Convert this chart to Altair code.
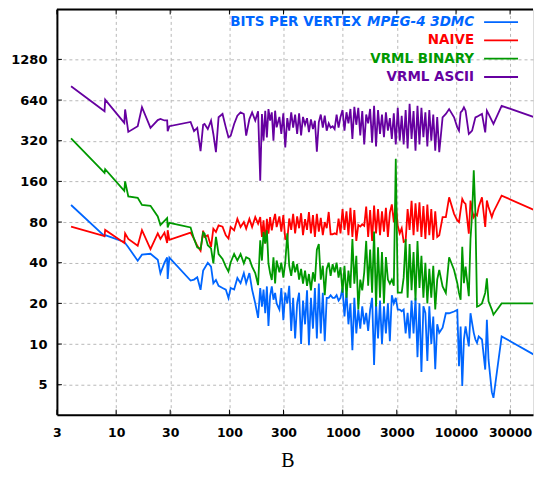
import altair as alt
import pandas as pd

# number of vertices (shared by all four series)
x_vertices = [
    4.0, 7.9, 8.0, 11.8, 12.0, 12.8, 15.5, 16.9, 20.1, 23.3, 24.6, 26.7, 28.2, 28.5, 29.5, 45.4, 48.7, 52, 55.6, 58.6,
    60.3, 64.4, 68.8, 72.1, 76, 80.2, 86.9, 92.9, 98, 102.6, 110, 117.5, 125.4, 134, 140.5, 150, 158.5, 169, 179, 187,
    193.6, 200, 207, 214, 221, 228.5, 236.5, 244.6, 253, 261,
    276, 287, 299, 311, 324, 337, 351, 365, 380, 396,
    412, 429, 446, 465, 484, 503, 524, 546, 568, 591,
    615, 640, 667, 694, 722, 752, 782, 815, 848, 883,
    919, 956, 996, 1036, 1079, 1123, 1169, 1217, 1266, 1318,
    1372, 1428, 1487, 1548, 1611, 1677, 1745, 1817, 1891, 1968,
    2049, 2133, 2220, 2311, 2405, 2504, 2606, 2713, 2824, 2939,
    3059, 3185, 3315, 3450, 3592, 3739, 3892, 4051, 4217, 4389,
    4569, 4756, 4950, 5153, 5364, 5583, 5811, 6049, 6297, 6555,
    6823,
    7112, 7610, 8130, 8690, 9610, 10260, 10620, 10980, 11350, 11740, 12140, 12970, 13420, 13870, 14340, 14830,
    15320, 15850, 16940, 18100, 18720, 19360, 20700, 21400, 25270, 49300,
]

bpv_3dmc = [
    107, 63, 64, 57, 56, 52, 41.4, 45.9, 46.6, 42, 33.4, 40, 43.7, 30.3, 43.7, 29.5, 30, 31.2, 25.2, 35,
    36.4, 40, 37.4, 28.2, 29.8, 27, 26, 25.3, 21.9, 26, 25.3, 30.8, 28.2, 33.5, 28.2, 33.5, 25.3, 20, 15.6, 26,
    18.9, 25.3, 16.9, 26.7, 13.6, 22.6, 26.7, 21.3, 23.9, 20,
    18, 26, 15, 24, 20, 27, 12.5, 22, 11, 20,
    24, 10, 21, 14, 25, 9.8, 22, 13, 26, 11,
    28, 12, 24, 10.5, 22, 22, 23, 22, 22, 23,
    21, 22, 26, 16, 24, 14, 20, 9, 22, 12,
    18, 13, 19, 14, 17, 12.5, 18, 22, 7, 20,
    11, 21, 10, 19, 12, 20, 10.5, 23, 20, 22,
    18, 18, 17.5, 18, 12, 17, 11, 21, 12, 22,
    8, 20, 6.2, 19, 17, 7.5, 19, 10, 16, 6.5,
    14,
    12.1, 13.2, 16.9, 16.9, 17.4, 17.9, 6.84, 13.5, 4.9, 10.8, 13.5, 9.6, 16.9, 14.3, 12.1, 10.8,
    10.2, 11.4, 10.8, 6.47, 15.1, 7.66, 4.4, 4.0, 11.4, 8.3,
]

bpv_naive = [
    74, 63, 70, 56, 66, 60, 53.4, 69.6, 50.5, 66, 60, 66.8, 56, 69.6, 59, 66.8, 60, 53.4, 49, 69,
    62.1, 63.9, 52.4, 71.5, 67.6, 75.6, 74, 63.9, 60.4, 73.5, 69.5, 84.6, 73.5, 80, 71.5, 84.6, 73.5, 87, 77.8, 87,
    62.1, 82.3, 55.5, 84.6, 65.7, 87, 69.5, 82, 92, 73.5,
    88, 68, 90, 60, 59, 85, 70, 92, 66, 88,
    72, 93, 64, 84, 70, 95, 66, 90, 62, 92,
    68, 86, 64, 80, 72, 95, 65, 65, 66, 65,
    85, 66, 100, 70, 96, 64, 102, 62, 98, 58,
    76, 74, 77, 75, 104, 62, 98, 58, 106, 66,
    100, 64, 96, 68, 102, 62, 94, 108, 80, 110,
    75, 66, 72, 57, 58, 100, 70, 115, 64, 110,
    68, 112, 62, 105, 60, 108, 64, 100, 59, 96,
    62,
    63.9, 87, 87, 122, 92, 82.3, 80, 97.9, 118.7, 112, 109, 65.7, 115.4, 97.9, 87, 92,
    89.6, 103.5, 122, 73.5, 115.4, 103.5, 87, 95, 125.6, 97.9,
]

bpv_vrml_binary = [
    333, 185, 197, 136, 160, 124, 121, 107, 105.5, 88, 76, 81.6, 85.6, 73, 79, 73, 60, 52, 50.5, 66.8,
    65.7, 53.9, 51, 39.6, 62.1, 46.4, 42.7, 37.4, 34.4, 40.3, 46.4, 41.5, 46.4, 39.6, 43.9, 42.7, 37.4, 33.5, 27.3, 58.7,
    41.5, 67.6, 55.5, 69.5, 39.6, 33.5, 29.8, 43.9, 28.1, 41.5,
    34, 40, 31, 40, 66, 38, 32, 41, 34, 39,
    30, 36, 28, 35, 27, 33, 25, 34, 29, 50,
    55, 30, 38, 23, 36, 40, 32, 39, 34, 40,
    31, 37, 24, 38, 22, 35, 26, 60, 28, 45,
    18, 30, 25, 34, 58, 27, 50, 24, 68, 19,
    52, 22, 48, 20, 44, 30, 28, 30, 27, 235,
    24, 24, 24, 31, 60, 22, 55, 25, 48, 21,
    58, 26, 45, 22, 40, 20, 36, 22, 38, 18,
    30,
    35.3, 26.7, 23.9, 43.9, 35.3, 28.2, 23.9, 21.3, 52.4, 28.2, 37.4, 22.6, 60.2, 92.2, 193, 92.2,
    18.9, 19.1, 20, 23.9, 30.6, 20.7, 18, 16.5, 20, 20,
]

bpv_vrml_ascii = [
    809, 529, 645, 434, 545, 372, 410, 566, 398, 455, 464, 452, 452, 377, 410, 441, 377, 398, 268, 420,
    426, 391, 451, 359, 263, 477, 505, 402, 339, 349, 426, 490, 519, 505, 349, 463, 519, 451, 528, 162,
    505, 320, 534, 339, 549, 451, 519, 320, 534, 402,
    480, 360, 510, 285, 470, 380, 520, 400, 500, 360,
    510, 350, 480, 420, 470, 370, 460, 390, 450, 265,
    440, 500, 400, 490, 380, 430, 400, 410, 390, 500,
    400, 480, 540, 380, 520, 430, 550, 330, 570, 420,
    560, 350, 530, 300, 500, 430, 550, 310, 580, 290,
    540, 360, 500, 340, 520, 380, 470, 330, 510, 300,
    560, 320, 490, 300, 540, 280, 600, 330, 530, 270,
    580, 300, 560, 340, 520, 290, 540, 320, 500, 270,
    480,
    263, 477, 505, 549, 477, 402, 380, 519, 534, 565, 534, 359, 369, 380, 426, 477,
    482, 490, 505, 369, 534, 505, 451, 426, 580, 477,
]

series_names = ["BITS PER VERTEX MPEG-4 3DMC", "NAIVE", "VRML BINARY", "VRML ASCII"]
series_values = [bpv_3dmc, bpv_naive, bpv_vrml_binary, bpv_vrml_ascii]
series_colors = ["#0066ff", "#ff0000", "#009900", "#6600a0"]

x_ticks = [3, 10, 30, 100, 300, 1000, 3000, 10000, 30000]
y_ticks = [5, 10, 20, 40, 80, 160, 320, 640, 1280]
caption = "B"

W, H = 477, 406
xs = alt.Scale(type="log", domain=[3, 47800], nice=False)
ys = alt.Scale(type="log", domain=[3, 3000], nice=False)

common_axis = dict(
    title=None, grid=True, gridColor="#b8b8b8", gridDash=[3, 3], gridWidth=1,
    ticks=False, domain=True, domainColor="black", domainWidth=2,
    labelFont="DejaVu Sans", labelFontWeight="bold", labelColor="black",
    labelFlush=False, labelOverlap=False, format="d",
)
x_axis = alt.Axis(values=x_ticks, labelPadding=12, labelFontSize=12.5, **common_axis)
y_axis = alt.Axis(values=y_ticks, labelPadding=10, labelFontSize=13, minExtent=49, maxExtent=49, **common_axis)

layers = []
for name, vals, col in zip(series_names, series_values, series_colors):
    n = min(len(vals), len(x_vertices))
    d = pd.DataFrame({"x": x_vertices[:n], "y": vals[:n], "i": list(range(n))})
    layers.append(
        alt.Chart(d).mark_line(color=col, strokeWidth=1.8, clip=True).encode(
            x=alt.X("x:Q", scale=xs, axis=x_axis),
            y=alt.Y("y:Q", scale=ys, axis=y_axis),
            order="i:Q",
        )
    )

xt = pd.DataFrame({"t": x_ticks})
yt = pd.DataFrame({"t": y_ticks})
layers.append(alt.Chart(xt).mark_rule(color="black", strokeWidth=1).encode(
    x=alt.X("t:Q", scale=xs, axis=x_axis), y=alt.value(H), y2=alt.value(H - 5)))
layers.append(alt.Chart(xt).mark_rule(color="black", strokeWidth=1).encode(
    x=alt.X("t:Q", scale=xs, axis=x_axis), y=alt.value(0), y2=alt.value(5)))
layers.append(alt.Chart(yt).mark_rule(color="black", strokeWidth=1).encode(
    y=alt.Y("t:Q", scale=ys, axis=y_axis), x=alt.value(0), x2=alt.value(5)))

dummy = pd.DataFrame({"a": [0]})
layers.append(alt.Chart(dummy).mark_rule(color="black", strokeWidth=2).encode(
    x=alt.value(0), x2=alt.value(W), y=alt.value(0)))

# legend (drawn inside the plot, text then line sample)
row_y = [12.7, 31, 49.3, 67.7]
for k, (name, col) in enumerate(zip(series_names, series_colors)):
    ry = row_y[k]
    if k == 0:
        layers.append(alt.Chart(dummy).mark_text(
            text="BITS PER VERTEX", align="right", baseline="middle", font="DejaVu Sans",
            fontWeight="bold", fontSize=13.5, color=col).encode(x=alt.value(305), y=alt.value(ry)))
        layers.append(alt.Chart(dummy).mark_text(
            text="MPEG-4 3DMC", align="right", baseline="middle", font="DejaVu Sans",
            fontWeight="bold", fontStyle="italic", fontSize=13.5, color=col).encode(x=alt.value(418), y=alt.value(ry)))
    else:
        layers.append(alt.Chart(dummy).mark_text(
            text=name, align="right", baseline="middle", font="DejaVu Sans",
            fontWeight="bold", fontSize=13.5, color=col).encode(x=alt.value(418), y=alt.value(ry)))
    layers.append(alt.Chart(dummy).mark_rule(color=col, strokeWidth=1.8).encode(
        x=alt.value(428), x2=alt.value(462), y=alt.value(ry)))

layers.append(alt.Chart(dummy).mark_text(
    text=caption, align="center", baseline="alphabetic", font="Liberation Serif",
    fontSize=20, color="black").encode(x=alt.value(231.5), y=alt.value(458)))

chart = alt.layer(*layers).properties(
    width=W, height=H, padding={"left": 0, "top": 0, "right": 0, "bottom": 0}
).configure_view(stroke=None).configure(background="white")

chart.save("out.html", embed_options={"renderer": "svg", "actions": False})
